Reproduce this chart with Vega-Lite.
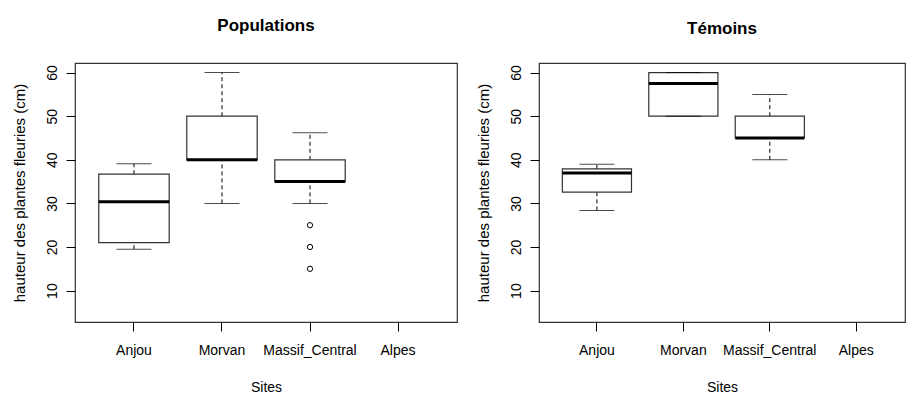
{
  "$schema": "https://vega.github.io/schema/vega-lite/v6.json",
  "padding": {"left": 11, "top": 15, "right": 0, "bottom": 0},
  "background": "white",
  "config": {
    "font": "Liberation Sans",
    "view": {"stroke": "#333", "strokeWidth": 1.2},
    "axis": {"grid": false, "domain": false, "tickColor": "black", "tickSize": 9, "tickWidth": 1, "labelColor": "black", "labelFontSize": 14, "labelFont": "Liberation Sans", "titleColor": "black", "titleFontSize": 15, "titleFontWeight": "normal", "titleFont": "Liberation Sans"},
    "axisX": {"titleFontSize": 14},
    "title": {"fontSize": 17, "fontWeight": "bold", "color": "black", "font": "Liberation Sans"}
  },
  "datasets": {
    "pop": [
      {"site": "Anjou", "lower": 19.5, "q1": 21, "median": 30.4, "q3": 36.7, "upper": 39.1},
      {"site": "Morvan", "lower": 30, "q1": 40, "median": 40, "q3": 50, "upper": 60},
      {"site": "Massif_Central", "lower": 30, "q1": 35, "median": 35, "q3": 40, "upper": 46.2}
    ],
    "pop_out": [
      {"site": "Massif_Central", "value": 25},
      {"site": "Massif_Central", "value": 20},
      {"site": "Massif_Central", "value": 15}
    ],
    "tem": [
      {"site": "Anjou", "lower": 28.4, "q1": 32.6, "median": 37, "q3": 37.9, "upper": 39},
      {"site": "Morvan", "lower": 50, "q1": 50, "median": 57.5, "q3": 60, "upper": 60},
      {"site": "Massif_Central", "lower": 40, "q1": 45, "median": 45, "q3": 50, "upper": 55}
    ]
  },
  "spacing": 17,
  "hconcat": [
    {
      "width": 382,
      "height": 259,
      "title": {"text": "Populations", "offset": 28.5},
      "data": {"name": "pop"},
      "encoding": {
        "x": {"field": "site", "type": "nominal", "sort": null,
          "scale": {"domain": ["Anjou", "Morvan", "Massif_Central", "Alpes"], "paddingInner": 0.2, "paddingOuter": 0.27},
          "axis": {"title": "Sites", "labelAngle": 0, "labelPadding": 12.2, "titlePadding": 23}}
      },
      "layer": [
        {"mark": {"type": "rule", "color": "black", "strokeDash": [4, 3], "strokeWidth": 1},
          "encoding": {"y": {"field": "lower", "type": "quantitative", "scale": {"domain": [2.8, 62.2], "nice": false, "zero": false},
            "axis": {"title": "hauteur des plantes fleuries (cm)", "values": [10, 20, 30, 40, 50, 60], "labelAngle": -90, "labelAlign": "center", "labelBaseline": "bottom", "labelPadding": 7, "titlePadding": 18}},
            "y2": {"field": "q1"}}},
        {"mark": {"type": "rule", "color": "black", "strokeDash": [4, 3], "strokeWidth": 1},
          "encoding": {"y": {"field": "q3", "type": "quantitative"}, "y2": {"field": "upper"}}},
        {"mark": {"type": "bar", "fill": "white", "stroke": "#333", "strokeWidth": 1.2},
          "encoding": {"y": {"field": "q1", "type": "quantitative"}, "y2": {"field": "q3"}}},
        {"mark": {"type": "tick", "color": "black", "size": 35, "thickness": 1},
          "encoding": {"y": {"field": "lower", "type": "quantitative"}}},
        {"mark": {"type": "tick", "color": "black", "size": 35, "thickness": 1},
          "encoding": {"y": {"field": "upper", "type": "quantitative"}}},
        {"mark": {"type": "tick", "color": "black", "size": 70.5, "thickness": 3, "opacity": 1},
          "encoding": {"y": {"field": "median", "type": "quantitative"}}},
        {"data": {"name": "pop_out"},
          "mark": {"type": "point", "shape": "circle", "filled": false, "color": "black", "size": 28, "strokeWidth": 1, "opacity": 1},
          "encoding": {"y": {"field": "value", "type": "quantitative"}}}
      ]
    },
    {
      "width": 366,
      "height": 259,
      "title": {"text": "Témoins", "offset": 25.2},
      "data": {"name": "tem"},
      "encoding": {
        "x": {"field": "site", "type": "nominal", "sort": null,
          "scale": {"domain": ["Anjou", "Morvan", "Massif_Central", "Alpes"], "paddingInner": 0.2, "paddingOuter": 0.217, "align": 0.622},
          "axis": {"title": "Sites", "labelAngle": 0, "labelPadding": 12.2, "titlePadding": 23}}
      },
      "layer": [
        {"mark": {"type": "rule", "color": "black", "strokeDash": [4, 3], "strokeWidth": 1},
          "encoding": {"y": {"field": "lower", "type": "quantitative", "scale": {"domain": [2.8, 62.2], "nice": false, "zero": false},
            "axis": {"title": "hauteur des plantes fleuries (cm)", "values": [10, 20, 30, 40, 50, 60], "labelAngle": -90, "labelAlign": "center", "labelBaseline": "bottom", "labelPadding": 7, "titlePadding": 18}},
            "y2": {"field": "q1"}}},
        {"mark": {"type": "rule", "color": "black", "strokeDash": [4, 3], "strokeWidth": 1},
          "encoding": {"y": {"field": "q3", "type": "quantitative"}, "y2": {"field": "upper"}}},
        {"mark": {"type": "bar", "fill": "white", "stroke": "#333", "strokeWidth": 1.2},
          "encoding": {"y": {"field": "q1", "type": "quantitative"}, "y2": {"field": "q3"}}},
        {"mark": {"type": "tick", "color": "black", "size": 35, "thickness": 1},
          "encoding": {"y": {"field": "lower", "type": "quantitative"}}},
        {"mark": {"type": "tick", "color": "black", "size": 35, "thickness": 1},
          "encoding": {"y": {"field": "upper", "type": "quantitative"}}},
        {"mark": {"type": "tick", "color": "black", "size": 69, "thickness": 3, "opacity": 1},
          "encoding": {"y": {"field": "median", "type": "quantitative"}}}
      ]
    }
  ]
}
